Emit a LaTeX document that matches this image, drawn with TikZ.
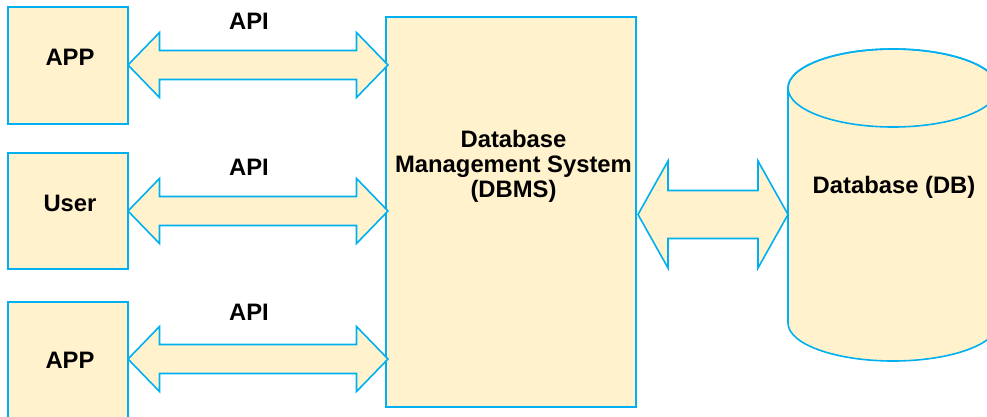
\documentclass[tikz,border=0pt]{standalone}
\usepackage{fontspec}
\setmainfont{Liberation Sans}
\usetikzlibrary{calc}
\definecolor{lineblue}{RGB}{0,176,240}
\definecolor{boxfill}{RGB}{255,242,204}
\newcommand{\blockarrow}[5]{%
  \draw[arrowshape] (#1) -- ($(#1)+(#3,-#5)$) -- ($(#1)+(#3,-#4)$) -- ($(#2)+(-#3,-#4)$)
    -- ($(#2)+(-#3,-#5)$) -- (#2) -- ($(#2)+(-#3,#5)$) -- ($(#2)+(-#3,#4)$)
    -- ($(#1)+(#3,#4)$) -- ($(#1)+(#3,#5)$) -- cycle;}
\begin{document}
\begin{tikzpicture}[x=1pt,y=-1pt,
  box/.style={draw=lineblue,fill=boxfill,line width=1.6pt,inner sep=0pt},
  arrowshape/.style={draw=lineblue,fill=boxfill,line width=1.6pt,line join=miter},
  txt/.style={font=\fontsize{23.8}{25}\selectfont\bfseries,inner sep=0pt,text=black}]
\useasboundingbox (0,0) rectangle (987,416);
% boxes
\draw[box] (8,7) rectangle (128,124);
\draw[box] (8,153) rectangle (128,269);
\draw[box] (8,302) rectangle (128,436);
\draw[box] (386,17) rectangle (636,407);
\node[txt,anchor=base] (app1) at (70,65) {APP};
\node[txt,anchor=base] (user) at (70,211) {User};
\node[txt,anchor=base] (app2) at (70,368) {APP};
\node[txt,align=center] (dbms) at (513.5,166) {Database\\Management System\\(DBMS)};
% cylinder
\path[box] (788,88) -- (788,323) arc[start angle=180,end angle=360,x radius=105pt,y radius=38pt]
  -- (998,88) arc[start angle=0,end angle=180,x radius=105pt,y radius=39pt] -- cycle;
\draw[draw=lineblue,line width=1.6pt] (893,88) ellipse [x radius=105pt,y radius=39pt];
\node[txt,anchor=base] (db) at (894,193.3) {Database (DB)};
% arrow end points
\coordinate (a1l) at (128,65);  \coordinate (a1r) at (388,65);
\coordinate (a2l) at (128,211); \coordinate (a2r) at (388,211);
\coordinate (a3l) at (128,359); \coordinate (a3r) at (388,359);
\coordinate (a4l) at (638,214.5); \coordinate (a4r) at (788,214.5);
\blockarrow{a1l}{a1r}{31.5}{14.5}{32.5}
\blockarrow{a2l}{a2r}{31.5}{14.5}{32.5}
\blockarrow{a3l}{a3r}{31.5}{14.5}{32.5}
\blockarrow{a4l}{a4r}{30}{24}{53.5}
% labels
\node[txt,anchor=base] (api1) at (249,29.3) {API};
\node[txt,anchor=base] (api2) at (249,175) {API};
\node[txt,anchor=base] (api3) at (249,320) {API};
\end{tikzpicture}
\end{document}
